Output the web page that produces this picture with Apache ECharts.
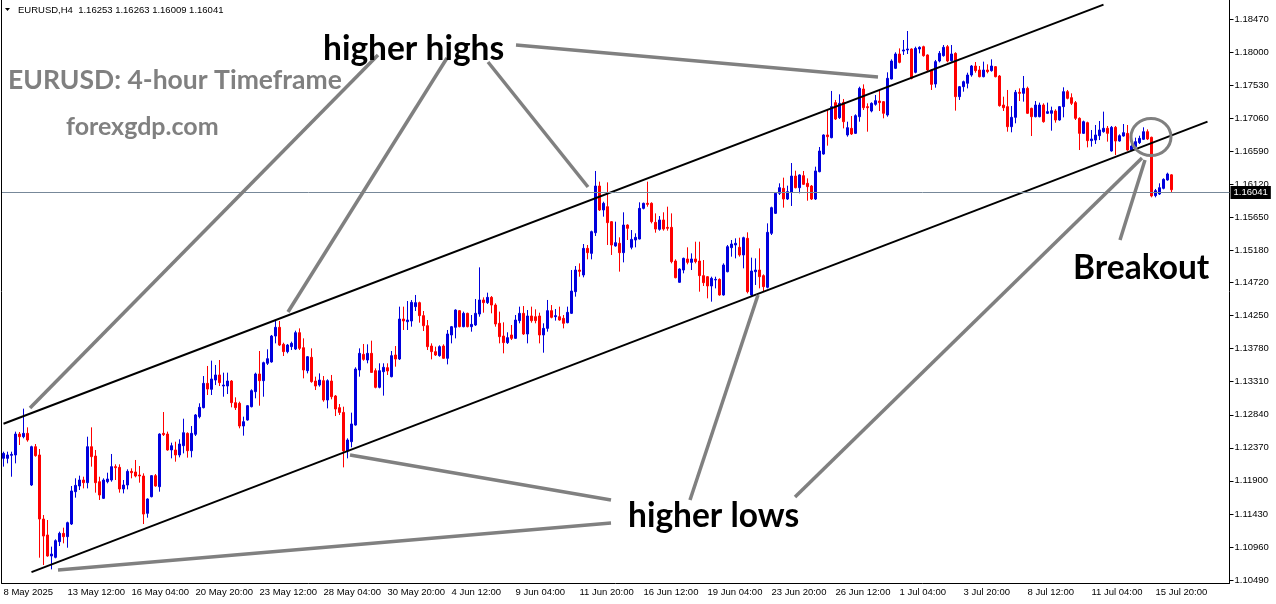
<!DOCTYPE html>
<html><head><meta charset="utf-8">
<script src="https://cdn.jsdelivr.net/npm/echarts@6/dist/echarts.min.js"></script>
<style>html,body{margin:0;padding:0;background:#fff}#c{width:1276px;height:604px}</style>
</head><body><div id="c"></div>
<script>
const tickLabels = ["8 May 2025","13 May 12:00","16 May 04:00","20 May 20:00","23 May 12:00","28 May 04:00","30 May 20:00","4 Jun 12:00","9 Jun 04:00","11 Jun 20:00","16 Jun 12:00","19 Jun 04:00","23 Jun 20:00","26 Jun 12:00","1 Jul 04:00","3 Jul 20:00","8 Jul 12:00","11 Jul 04:00","15 Jul 20:00"];
const priceTicks = [1.10490,1.10960,1.11430,1.11900,1.12370,1.12840,1.13310,1.13780,1.14250,1.14720,1.15180,1.15650,1.16120,1.16590,1.17060,1.17530,1.18000,1.18470];
const lastPrice = 1.16041;
const headerText = "EURUSD,H4  1.16253 1.16263 1.16009 1.16041";

const opens = [
1.12220,1.12220,1.12263,1.12268,1.12566,1.12528,1.12576,1.11841,1.12386,1.12268,
1.11357,1.11130,1.10831,1.10812,1.11035,1.11153,1.11106,1.11286,1.11746,1.11827,
1.11912,1.11874,1.12386,1.12253,1.11888,1.11651,1.11888,1.11912,1.12102,1.12092,
1.11784,1.11841,1.12035,1.12026,1.11983,1.11969,1.11438,1.11675,1.11974,1.11817,
1.12576,1.12566,1.12339,1.12339,1.12268,1.12400,1.12576,1.12329,1.12562,1.12813,
1.12941,1.13287,1.13202,1.13334,1.13406,1.13249,1.13249,1.13320,1.13012,1.13003,
1.12680,1.12765,1.12955,1.13169,1.13420,1.13325,1.13572,1.13591,1.13960,1.14084,
1.13842,1.13738,1.13809,1.13775,1.14008,1.13794,1.13467,1.13657,1.13320,1.13263,
1.13325,1.13050,1.13320,1.13107,1.12941,1.12874,1.12325,1.12457,1.12694,1.13477,
1.13700,1.13619,1.13714,1.13467,1.13230,1.13453,1.13510,1.13382,1.13690,1.13633,
1.14202,1.14164,1.14174,1.14378,1.14435,1.14250,1.14107,1.13818,1.13738,1.13681,
1.13818,1.13643,1.13975,1.14084,1.14321,1.14093,1.14283,1.14093,1.14117,1.14273,
1.14473,1.14435,1.14510,1.14401,1.14141,1.13960,1.13866,1.13975,1.13927,1.14179,
1.14283,1.13989,1.14245,1.14235,1.14245,1.13975,1.14069,1.14321,1.14235,1.14235,
1.14212,1.14150,1.14283,1.14591,1.14899,1.14828,1.15207,1.15136,1.15430,1.16094,
1.15753,1.15800,1.15587,1.15241,1.15279,1.15146,1.15539,1.15222,1.15326,1.15340,
1.15776,1.15848,1.15848,1.15577,1.15478,1.15611,1.15506,1.15506,1.15027,1.14724,
1.14899,1.15056,1.15008,1.15056,1.15027,1.14819,1.14804,1.14672,1.14757,1.14766,
1.14544,1.14875,1.15217,1.15255,1.15222,1.15113,1.15350,1.14544,1.14875,1.14899,
1.14819,1.14653,1.15421,1.15705,1.15990,1.16061,1.15909,1.16004,1.16236,1.16070,
1.16241,1.16132,1.16094,1.15909,1.16298,1.16549,1.16820,1.16782,1.17280,1.17066,
1.17284,1.16820,1.16914,1.16843,1.17080,1.17474,1.17223,1.17161,1.17256,1.17303,
1.17294,1.17104,1.17616,1.17768,1.17972,1.18014,1.18029,1.18043,1.17711,1.18043,
1.18076,1.17958,1.17744,1.17545,1.17872,1.17948,1.18076,1.17877,1.17981,1.17365,
1.17507,1.17555,1.17673,1.17801,1.17744,1.17649,1.17744,1.17735,1.17792,1.17659,
1.17246,1.17223,1.16938,1.17071,1.17427,1.17412,1.17483,1.17199,1.17080,1.17080,
1.17246,1.17128,1.17128,1.17161,1.17033,1.17223,1.17436,1.17351,1.17280,1.17057,
1.16843,1.16995,1.16739,1.16748,1.16810,1.16867,1.16915,1.16592,1.16929,1.16734,
1.16805,1.16843,1.16606,1.16654,1.16711,1.16758,1.16867,1.16787,1.15957,1.15980,
1.16061,1.16180,1.16253];
const highs = [
1.12315,1.12315,1.12315,1.12600,1.12595,1.12927,1.12661,1.12400,1.12424,1.12353,
1.11414,1.11343,1.10964,1.11068,1.11177,1.11234,1.11319,1.11827,1.11936,1.11974,
1.11959,1.12528,1.12661,1.12339,1.11959,1.11936,1.12016,1.12282,1.12135,1.12135,
1.11912,1.12064,1.12078,1.12197,1.12111,1.12007,1.11651,1.11983,1.11997,1.12576,
1.12879,1.12600,1.12443,1.12457,1.12491,1.12784,1.12590,1.12680,1.12851,1.13003,
1.13391,1.13534,1.13610,1.13548,1.13619,1.13439,1.13439,1.13334,1.13088,1.13026,
1.12813,1.12979,1.13202,1.13439,1.13747,1.13595,1.13771,1.13975,1.14174,1.14174,
1.13865,1.13847,1.13880,1.14036,1.14069,1.13927,1.13676,1.13785,1.13382,1.13429,
1.13391,1.13344,1.13406,1.13121,1.12993,1.12955,1.12505,1.12870,1.13515,1.13785,
1.13847,1.13842,1.13894,1.13500,1.13572,1.13572,1.13572,1.13747,1.13818,1.14378,
1.14378,1.14458,1.14472,1.14544,1.14449,1.14316,1.14188,1.13856,1.13809,1.13828,
1.13842,1.14046,1.14103,1.14340,1.14330,1.14307,1.14292,1.14259,1.14487,1.14937,
1.14510,1.14577,1.14529,1.14425,1.14307,1.14155,1.14013,1.14117,1.14259,1.14378,
1.14387,1.14330,1.14378,1.14340,1.14292,1.14141,1.14473,1.14401,1.14344,1.14378,
1.14259,1.14378,1.14899,1.14956,1.14994,1.15269,1.15255,1.15459,1.16308,1.16156,
1.15871,1.16146,1.15596,1.15587,1.15364,1.15720,1.15549,1.15468,1.15421,1.15862,
1.15857,1.16156,1.15862,1.15705,1.15667,1.15720,1.15800,1.15705,1.15051,1.14923,
1.15075,1.15222,1.15136,1.15302,1.15302,1.15041,1.14814,1.14804,1.14804,1.14780,
1.14994,1.15255,1.15326,1.15350,1.15359,1.15373,1.15435,1.15075,1.15065,1.15207,
1.14837,1.15563,1.15800,1.16004,1.16132,1.16213,1.16099,1.16421,1.16312,1.16260,
1.16308,1.16203,1.16108,1.16369,1.16649,1.16829,1.17185,1.17446,1.17318,1.17398,
1.17332,1.17009,1.17090,1.17114,1.17507,1.17540,1.17270,1.17284,1.17389,1.17460,
1.17303,1.17711,1.17896,1.17996,1.18052,1.18171,1.18299,1.18052,1.18076,1.18081,
1.18090,1.17967,1.17758,1.17887,1.18014,1.18100,1.18100,1.18100,1.17996,1.17517,
1.17593,1.17706,1.17815,1.17858,1.17801,1.17863,1.17825,1.17896,1.17801,1.17673,
1.17365,1.17460,1.17232,1.17460,1.17483,1.17659,1.17507,1.17208,1.17303,1.17280,
1.17270,1.17280,1.17223,1.17185,1.17232,1.17498,1.17460,1.17412,1.17303,1.17071,
1.17024,1.17009,1.16891,1.16962,1.17019,1.17152,1.16948,1.16948,1.16948,1.16829,
1.16976,1.16962,1.16725,1.16782,1.16810,1.16929,1.16900,1.16796,1.16052,1.16132,
1.16203,1.16284,1.16263];
const lows = [
1.12102,1.12149,1.11959,1.12149,1.12410,1.12505,1.12457,1.11827,1.12244,1.10807,
1.10703,1.10821,1.10641,1.10798,1.10973,1.11011,1.10949,1.11272,1.11661,1.11770,
1.11793,1.11793,1.12102,1.11732,1.11628,1.11642,1.11865,1.11888,1.11912,1.11732,
1.11722,1.11779,1.11936,1.11950,1.11874,1.11286,1.11376,1.11665,1.11817,1.11746,
1.12538,1.12329,1.12220,1.12173,1.12234,1.12291,1.12230,1.12234,1.12538,1.12789,
1.12931,1.13121,1.13121,1.13263,1.13249,1.13097,1.13135,1.12946,1.12908,1.12647,
1.12543,1.12756,1.12945,1.13074,1.12969,1.13097,1.13548,1.13581,1.13856,1.13818,
1.13676,1.13714,1.13761,1.13761,1.13761,1.13358,1.13429,1.13296,1.13192,1.13240,
1.13026,1.12931,1.13060,1.12822,1.12837,1.12092,1.12220,1.12377,1.12685,1.13382,
1.13609,1.13572,1.13439,1.13216,1.13216,1.13112,1.13406,1.13372,1.13524,1.13619,
1.14046,1.14046,1.14093,1.14316,1.14150,1.14031,1.13761,1.13628,1.13676,1.13666,
1.13638,1.13557,1.13856,1.13927,1.14084,1.14084,1.14084,1.14022,1.14103,1.14235,
1.14292,1.14416,1.14283,1.14093,1.13856,1.13714,1.13847,1.13903,1.13918,1.14141,
1.13975,1.13856,1.14150,1.14141,1.13856,1.13723,1.14022,1.14212,1.14179,1.14179,
1.14069,1.14141,1.14273,1.14520,1.14804,1.14795,1.15051,1.15051,1.15383,1.15739,
1.15658,1.15255,1.15113,1.15231,1.14876,1.15008,1.15326,1.15193,1.15222,1.15335,
1.15762,1.15800,1.15563,1.15430,1.15459,1.15459,1.15459,1.14994,1.14781,1.14719,
1.14852,1.14980,1.14899,1.14994,1.14591,1.14672,1.14496,1.14449,1.14638,1.14534,
1.14534,1.14866,1.15089,1.15065,1.15089,1.14923,1.14567,1.14520,1.14686,1.14638,
1.14591,1.14638,1.15397,1.15696,1.15966,1.15786,1.15895,1.15810,1.16061,1.15990,
1.16108,1.15885,1.15895,1.15895,1.16289,1.16540,1.16668,1.16772,1.17033,1.17047,
1.16914,1.16796,1.16820,1.16834,1.17009,1.17175,1.16867,1.17142,1.17237,1.17161,
1.17057,1.17080,1.17611,1.17758,1.17839,1.17958,1.17972,1.17611,1.17697,1.17981,
1.17934,1.17721,1.17460,1.17493,1.17853,1.17934,1.17853,1.17863,1.17166,1.17318,
1.17436,1.17483,1.17649,1.17706,1.17640,1.17640,1.17697,1.17721,1.17640,1.17223,
1.17161,1.16867,1.16858,1.16986,1.17303,1.17294,1.17118,1.16805,1.17071,1.17071,
1.16995,1.17118,1.16881,1.16995,1.17024,1.17071,1.17327,1.17246,1.17033,1.16606,
1.16834,1.16644,1.16654,1.16692,1.16748,1.16853,1.16725,1.16583,1.16535,1.16725,
1.16796,1.16597,1.16597,1.16644,1.16692,1.16748,1.16748,1.15933,1.15933,1.15966,
1.16047,1.16170,1.16009];
const closes = [
1.12291,1.12268,1.12277,1.12566,1.12528,1.12576,1.12481,1.12386,1.12258,1.11357,
1.11115,1.10831,1.10859,1.11049,1.11153,1.11106,1.11305,1.11756,1.11836,1.11912,
1.11874,1.12386,1.12244,1.11874,1.11699,1.11912,1.11926,1.12102,1.12087,1.11784,
1.11841,1.12035,1.12016,1.11969,1.11969,1.11428,1.11642,1.11974,1.11827,1.12566,
1.12557,1.12339,1.12400,1.12268,1.12424,1.12585,1.12329,1.12576,1.12837,1.12946,
1.13287,1.13206,1.13349,1.13406,1.13297,1.13263,1.13320,1.13012,1.12941,1.12680,
1.12742,1.12969,1.13183,1.13420,1.13325,1.13581,1.13638,1.13960,1.14084,1.13832,
1.13738,1.13832,1.13856,1.14008,1.13785,1.13477,1.13666,1.13311,1.13249,1.13334,
1.13050,1.13325,1.13097,1.12922,1.12874,1.12325,1.12481,1.12709,1.13491,1.13714,
1.13628,1.13714,1.13443,1.13230,1.13467,1.13515,1.13463,1.13681,1.13633,1.14202,
1.14174,1.14188,1.14439,1.14435,1.14250,1.14107,1.13809,1.13738,1.13690,1.13809,
1.13643,1.13989,1.14093,1.14330,1.14093,1.14283,1.14093,1.14126,1.14283,1.14473,
1.14435,1.14510,1.14401,1.14131,1.13951,1.13866,1.13937,1.13927,1.14188,1.14283,
1.13989,1.14245,1.14179,1.14179,1.13975,1.14069,1.14321,1.14226,1.14250,1.14188,
1.14141,1.14297,1.14600,1.14899,1.14880,1.15207,1.15146,1.15445,1.16094,1.15753,
1.15848,1.15573,1.15255,1.15288,1.15146,1.15539,1.15492,1.15335,1.15364,1.15776,
1.15848,1.15833,1.15587,1.15482,1.15611,1.15482,1.15492,1.15018,1.14790,1.14913,
1.15065,1.15008,1.15056,1.15018,1.14819,1.14719,1.14672,1.14781,1.14766,1.14544,
1.14970,1.15231,1.15269,1.15279,1.15113,1.15359,1.14591,1.14885,1.14899,1.14804,
1.14662,1.15435,1.15786,1.15990,1.16070,1.15909,1.16014,1.16236,1.16070,1.16251,
1.16118,1.16085,1.15909,1.16308,1.16592,1.16820,1.16796,1.17223,1.17047,1.17270,
1.17009,1.16924,1.16834,1.17095,1.17483,1.17208,1.17208,1.17270,1.17308,1.17280,
1.17128,1.17626,1.17872,1.17972,1.17853,1.18029,1.18043,1.17626,1.18052,1.18067,
1.17948,1.17744,1.17540,1.17863,1.17981,1.18067,1.17872,1.17972,1.17365,1.17507,
1.17578,1.17673,1.17801,1.17735,1.17649,1.17744,1.17721,1.17801,1.17649,1.17237,
1.17208,1.16938,1.17071,1.17427,1.17412,1.17483,1.17128,1.17080,1.17246,1.17246,
1.17009,1.17152,1.17166,1.17033,1.17223,1.17436,1.17341,1.17270,1.17057,1.16843,
1.17009,1.16739,1.16763,1.16820,1.16891,1.16915,1.16843,1.16929,1.16734,1.16810,
1.16853,1.16606,1.16663,1.16725,1.16772,1.16867,1.16763,1.15952,1.16028,1.16070,
1.16189,1.16265,1.16041];

// channel trendlines: [bar index, price]
const upperChannel = [[0, 1.12713], [275, 1.18675]];
const lowerChannel = [[7, 1.10602], [301, 1.17009]];

const SLOTS = 307;
const categories = [];
for (let i = 0; i < SLOTS; i++) categories.push(i % 16 === 0 && tickLabels[i / 16] ? tickLabels[i / 16] : '#' + i);
const ohlc = opens.map((o, i) => [o, closes[i], lows[i], highs[i]]);

const GRAY = '#808080';
const LBL = 'Liberation Sans, Arial, sans-serif';
const BIG = 'Lato, "Open Sans", sans-serif';
function seg(x1, y1, x2, y2) {
  return { type: 'line', shape: { x1, y1, x2, y2 }, style: { stroke: GRAY, lineWidth: 3.5 }, z: 50 };
}
function txt(x, y, text, size, color) {
  return { type: 'text', x, y, style: { text, font: 'bold ' + size + 'px ' + BIG, fill: color, textVerticalAlign: 'middle' }, z: 60 };
}

const chart = echarts.init(document.getElementById('c'), null, { renderer: 'canvas' });
chart.setOption({
  animation: false,
  backgroundColor: '#ffffff',
  grid: { left: 1.5, right: 46.5, top: 0, bottom: 21, show: false },
  xAxis: {
    type: 'category', data: categories, boundaryGap: true,
    axisLine: { lineStyle: { color: '#000', width: 1 } },
    axisTick: { interval: 15, alignWithLabel: true, length: 4, lineStyle: { color: '#000' } },
    axisLabel: { interval: 15, align: 'left', margin: 4, color: '#000', fontSize: 9.5, fontFamily: LBL,
      formatter: v => v.charAt(0) === '#' ? '' : v },
    splitLine: { show: false }
  },
  yAxis: {
    type: 'value', position: 'right', min: 1.10447, max: 1.18740, scale: true,
    axisLine: { show: true, lineStyle: { color: '#000', width: 1 } },
    axisTick: { show: true, length: 4, customValues: priceTicks, lineStyle: { color: '#000' } },
    axisLabel: { customValues: priceTicks, margin: 5, color: '#000', fontSize: 9.5, fontFamily: LBL,
      formatter: v => v.toFixed(5) },
    splitLine: { show: false }
  },
  series: [{
    type: 'candlestick', data: ohlc, barWidth: 2,
    itemStyle: { color: '#0000dd', color0: '#ff0000', borderColor: '#0000dd', borderColor0: '#ff0000', borderWidth: 1 },
    markLine: {
      symbol: 'none', silent: true, animation: false,
      data: [
        [{ coord: upperChannel[0], lineStyle: { color: '#000', width: 2, type: 'solid' }, label: { show: false } },
         { coord: upperChannel[1] }],
        [{ coord: lowerChannel[0], lineStyle: { color: '#000', width: 2, type: 'solid' }, label: { show: false } },
         { coord: lowerChannel[1] }],
        { yAxis: lastPrice, lineStyle: { color: '#778899', width: 1, type: 'solid' },
          label: { show: true, position: 'end', distance: 1, formatter: lastPrice.toFixed(5), color: '#fff',
            backgroundColor: '#000', padding: [2, 3, 1, 3], fontSize: 9.5, fontFamily: LBL } }
      ]
    }
  }],
  graphic: [
    { type: 'line', shape: { x1: 1.5, y1: 0, x2: 1.5, y2: 583 }, style: { stroke: '#000', lineWidth: 1 }, z: 40 },
    { type: 'polygon', shape: { points: [[5, 8], [10, 8], [7.5, 11]] }, style: { fill: '#000' }, z: 60 },
    { type: 'text', x: 18, y: 10, style: { text: headerText, font: '9.5px ' + LBL, fill: '#000', textVerticalAlign: 'middle' }, z: 60 },
    txt(8, 80, 'EURUSD: 4-hour Timeframe', 26.5, GRAY),
    txt(66, 127, 'forexgdp.com', 25, GRAY),
    txt(323, 49, 'higher highs', 33.5, '#000'),
    txt(628, 516, 'higher lows', 33.5, '#000'),
    txt(1073, 268, 'Breakout', 33.5, '#000'),
    seg(378, 55, 30, 408),
    seg(447, 58, 288, 312),
    seg(488, 62, 588, 187),
    seg(516, 45, 878, 77),
    seg(611, 500, 350, 455),
    seg(611, 523, 58, 570),
    seg(690, 500, 758, 295),
    seg(795, 497, 1142, 158),
    seg(1120, 240, 1145, 160),
    { type: 'ellipse', shape: { cx: 1151, cy: 137, rx: 20, ry: 18.5 }, style: { stroke: GRAY, fill: 'none', lineWidth: 3 }, z: 50 }
  ]
});
</script></body></html>
